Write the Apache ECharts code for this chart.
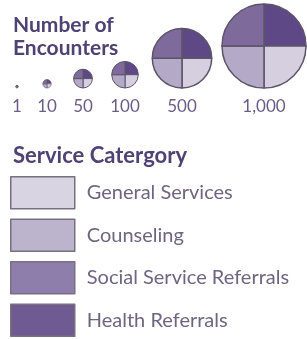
<!DOCTYPE html>
<html>
<head>
<meta charset="utf-8">
<script src="https://cdn.jsdelivr.net/npm/echarts@6/dist/echarts.min.js"></script>
<style>
  html, body { margin: 0; padding: 0; background: #fff; }
  #legendChart { width: 307px; height: 339px; }
</style>
</head>
<body>
<div id="legendChart"></div>
<script>
  // data
  const encounterValues = [1, 10, 50, 100, 500, 1000]
  const tickLabels = ['1', '10', '50', '100', '500', '1,000']
  const categories = ['General Services', 'Counseling', 'Social Service Referrals', 'Health Referrals']
  // quadrant order in each circle, clockwise from 12 o'clock
  const quadrantOrder = ['Health Referrals', 'General Services', 'Counseling', 'Social Service Referrals']

  // layout
  const centersX = [17, 47, 83, 125, 182, 264]
  const baseY = 88
  const maxR = 42
  const pieColors = {
    'General Services': '#d5cfe0',
    'Counseling': '#b4aac8',
    'Social Service Referrals': '#7f6a9c',
    'Health Referrals': '#5f4886'
  }
  const boxColors = {
    'General Services': '#d9d4e2',
    'Counseling': '#bcb3cd',
    'Social Service Referrals': '#8e7eab',
    'Health Referrals': '#6f5a92'
  }
  const font = 'Lato, "Open Sans", sans-serif'

  let myChart = echarts.init(document.getElementById('legendChart'))

  const maxVal = Math.max.apply(null, encounterValues)
  let series = encounterValues.map(function (v, i) {
    let r = maxR * Math.sqrt(v / maxVal)
    return {
      type: 'pie',
      name: tickLabels[i],
      center: [centersX[i], baseY - r],
      radius: [0, r],
      startAngle: 90,
      clockwise: true,
      silent: true,
      animation: false,
      label: { show: false },
      labelLine: { show: false },
      emphasis: { disabled: true },
      itemStyle: {
        borderColor: '#5c5468',
        borderWidth: r > 20 ? 1.5 : (r > 5 ? 1 : 0.6)
      },
      data: quadrantOrder.map(function (name) {
        return { name: name, value: 1, itemStyle: { color: pieColors[name] } }
      })
    }
  })

  let graphics = tickLabels.map(function (t, i) {
    return {
      type: 'text',
      x: centersX[i],
      y: 107,
      silent: true,
      style: {
        text: t,
        font: '17px ' + font,
        fill: '#6a5d88',
        align: 'center',
        verticalAlign: 'middle'
      }
    }
  })

  const titleStyle = {
    fontFamily: font,
    fontWeight: 'bold',
    fontSize: 21,
    lineHeight: 23,
    color: '#4f4373'
  }

  const option = {
    animation: false,
    title: [
      {
        text: 'Number of\nEncounters',
        left: 13,
        top: 14,
        padding: 0,
        textStyle: titleStyle
      },
      {
        text: 'Service Catergory',
        left: 13,
        top: 144,
        padding: 0,
        textStyle: Object.assign({}, titleStyle, { fontSize: 22 })
      }
    ],
    legend: {
      orient: 'vertical',
      left: 10,
      top: 176,
      height: 170,
      padding: 0,
      itemWidth: 64,
      itemHeight: 32,
      itemGap: 9,
      selectedMode: false,
      icon: 'rect',
      itemStyle: {
        borderColor: '#77707f',
        borderWidth: 1.5
      },
      textStyle: {
        fontFamily: font,
        fontSize: 20,
        color: '#6e6680',
        padding: [0, 0, 0, 7]
      },
      data: categories.map(function (name) {
        return { name: name, itemStyle: { color: boxColors[name] } }
      })
    },
    graphic: graphics,
    series: series
  }
  myChart.setOption(option)
</script>
</body>
</html>
